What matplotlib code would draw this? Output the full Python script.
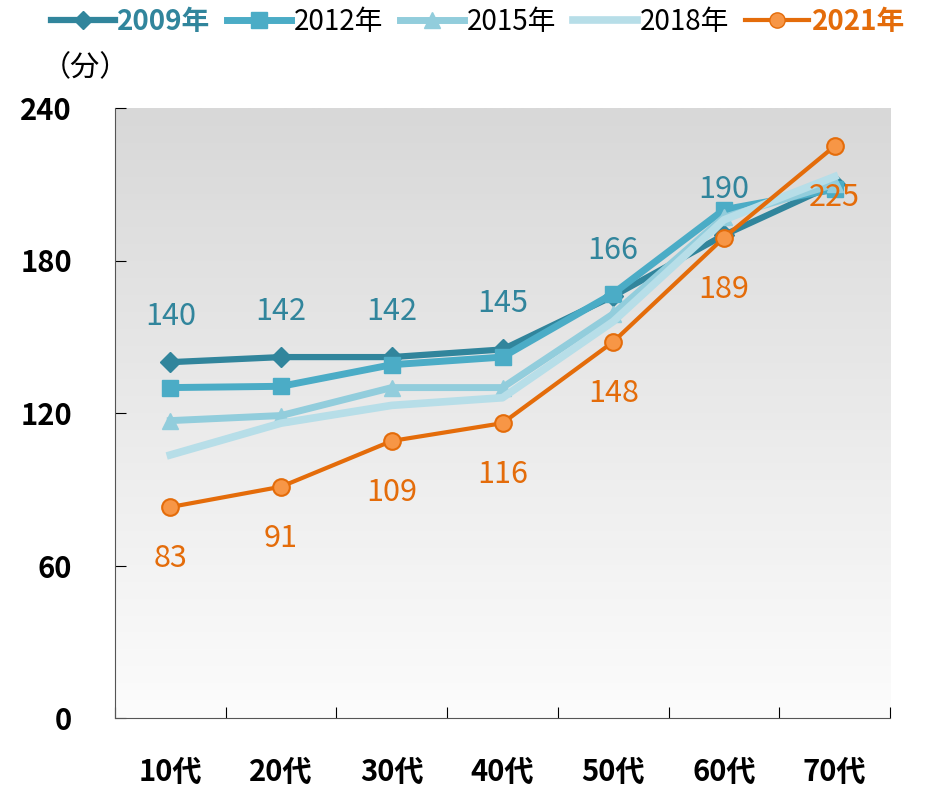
import numpy as np
import matplotlib.pyplot as plt
from matplotlib.lines import Line2D
from matplotlib.colors import LinearSegmentedColormap

plt.rcParams['font.family'] = ['Noto Sans CJK JP', 'DejaVu Sans']

ages = ['10代', '20代', '30代', '40代', '50代', '60代', '70代']
y2009 = [140, 142, 142, 145, 166, 190, 210]
y2012 = [130, 130.5, 139, 142, 167, 200, 208]
y2015 = [117, 119, 130, 130, 159, 197, 210]
y2018 = [103.5, 116, 123, 126, 156, 196, 213]
y2021 = [83, 91, 109, 116, 148, 189, 225]
labels2009 = [140, 142, 142, 145, 166, 190]
yticks = [0, 60, 120, 180, 240]

c09, c12, c15, c18, c21 = '#31859C', '#4BACC6', '#92CDDC', '#B7DEE8', '#E46C0A'

fig = plt.figure(figsize=(9.3, 7.89), dpi=100)
ax = fig.add_axes([115/930, 1-718/789, 775/930, 610/789])
x = np.arange(len(ages))

# gradient background
grad = np.linspace(0, 1, 256).reshape(-1, 1)
ax.imshow(grad, extent=[-0.5, 6.5, 0, 240], aspect='auto',
          cmap=LinearSegmentedColormap.from_list('g', ['#d8d8d8', '#fcfcfc']), zorder=0)

ax.plot(x, y2009, color=c09, lw=4.5, marker='D', ms=10, zorder=2)
ax.plot(x, y2012, color=c12, lw=5, marker='s', ms=12, zorder=3)
ax.plot(x, y2015, color=c15, lw=5, marker='^', ms=12, zorder=4)
ax.plot(x, y2018, color=c18, lw=5.5, zorder=5)
ax.plot(x, y2021, color=c21, lw=3, marker='o', ms=12, mfc='#F79646', mec=c21, mew=1.5, zorder=6)

for i, v in enumerate(labels2009):
    ax.annotate(str(v), (x[i], y2009[i]), xytext=(0, 33), textcoords='offset points',
                ha='center', va='center', fontsize=22, color=c09, zorder=7)
for i, v in enumerate(y2021):
    ax.annotate(str(v), (x[i], v), xytext=(0, -37), textcoords='offset points',
                ha='center', va='center', fontsize=22, color=c21, zorder=7)

ax.set_xlim(-0.5, 6.5)
ax.set_ylim(0, 240)
ax.set_yticks(yticks)
ax.set_yticklabels([str(t) for t in yticks], fontsize=21, fontweight='bold')
ax.set_xticks(x)
ax.set_xticklabels(ages, fontsize=21, fontweight='bold')
ax.set_xticks(np.arange(-0.5, 7, 1), minor=True)
ax.tick_params(axis='x', which='major', length=0, pad=28)
ax.tick_params(axis='x', which='minor', length=8, direction='in', width=0.8)
ax.tick_params(axis='y', length=8, direction='in', width=0.8, pad=31)
for s in ['top', 'right']:
    ax.spines[s].set_visible(False)
for s in ['left', 'bottom']:
    ax.spines[s].set_linewidth(0.8)
    ax.spines[s].set_color('#555555')

fig.text(42/930, 1-68/789, '（分）', fontsize=21, va='center', ha='left')

handles = [
    Line2D([], [], color=c09, lw=4.5, marker='D', ms=9),
    Line2D([], [], color=c12, lw=5, marker='s', ms=11),
    Line2D([], [], color=c15, lw=5, marker='^', ms=11),
    Line2D([], [], color=c18, lw=5.5),
    Line2D([], [], color=c21, lw=3, marker='o', ms=11, mfc='#F79646', mec=c21),
]
leg = fig.legend(handles, ['2009年', '2012年', '2015年', '2018年', '2021年'], ncol=5,
                 loc='center', bbox_to_anchor=(0.514, 1-22/789), frameon=False,
                 fontsize=20, handlelength=2.3, handletextpad=0.1, columnspacing=0.6)
texts = leg.get_texts()
texts[0].set_color(c09); texts[0].set_fontweight('bold')
texts[4].set_color(c21); texts[4].set_fontweight('bold')

fig.savefig('out.png', dpi=100)
